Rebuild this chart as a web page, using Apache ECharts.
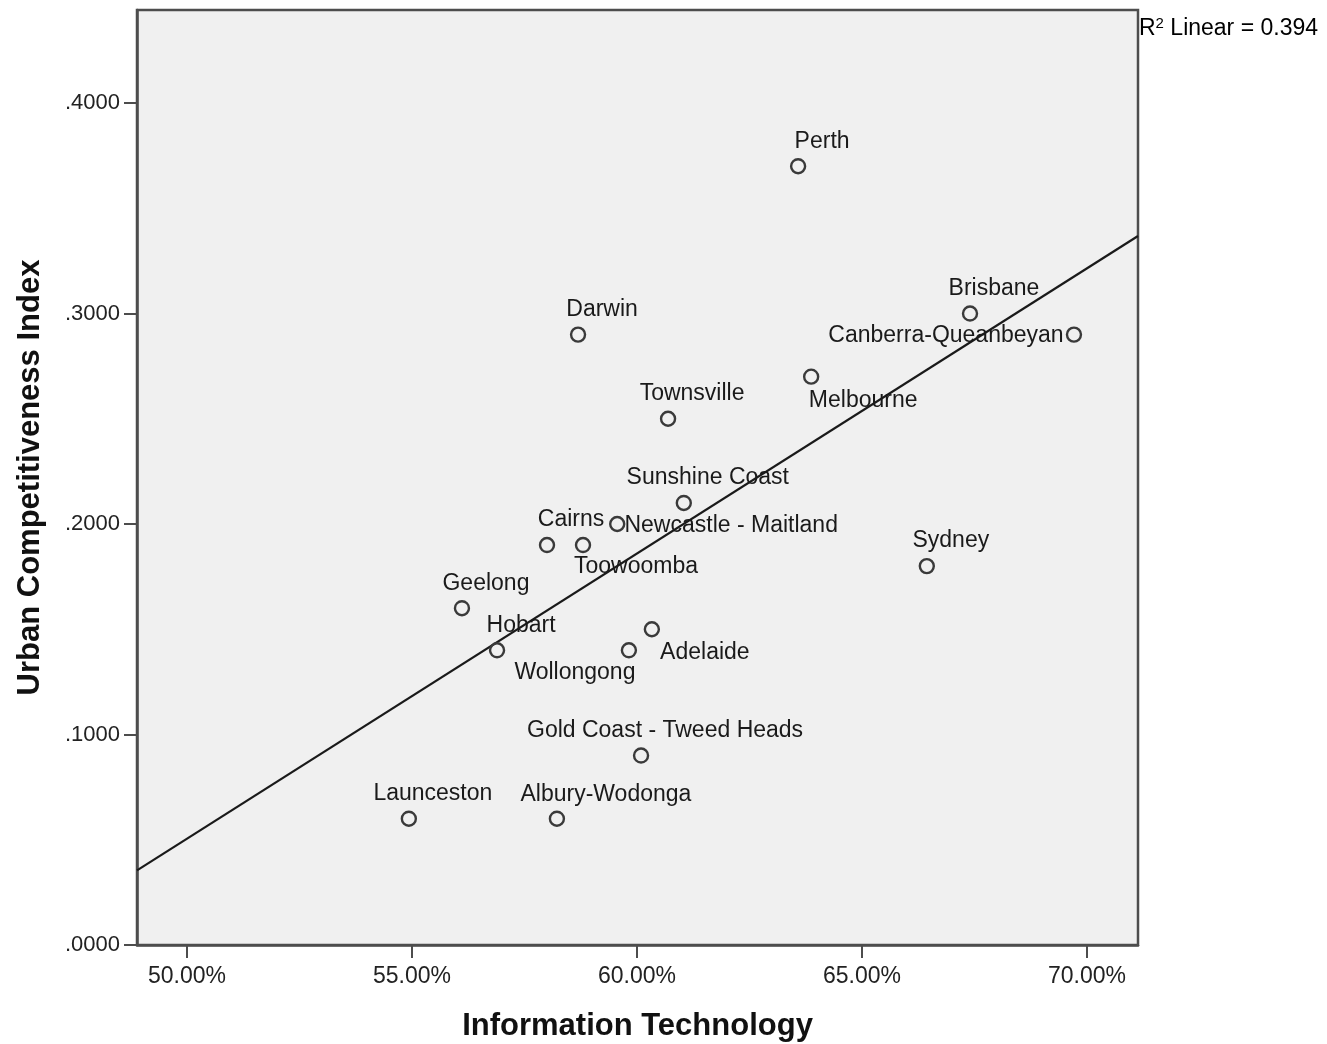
<!DOCTYPE html>
<html>
<head>
<meta charset="utf-8">
<title>Urban Competitiveness vs Information Technology</title>
<script src="https://cdn.jsdelivr.net/npm/echarts@6/dist/echarts.min.js"></script>
<style>
  html, body { margin: 0; padding: 0; background: #fff; }
  #chart { width: 1327px; height: 1044px; }
</style>
</head>
<body>
<div id="chart"></div>
<script>
// City names and their values
const cities = [
  'Perth', 'Darwin', 'Brisbane', 'Canberra-Queanbeyan', 'Melbourne',
  'Townsville', 'Sunshine Coast', 'Newcastle - Maitland', 'Cairns', 'Toowoomba',
  'Sydney', 'Geelong', 'Adelaide', 'Hobart', 'Wollongong',
  'Gold Coast - Tweed Heads', 'Launceston', 'Albury-Wodonga'
];
// Share of Information Technology (%)
const itShare = [
  63.58, 58.69, 67.40, 69.71, 63.87,
  60.69, 61.04, 59.56, 58.00, 58.80,
  66.44, 56.11, 60.33, 56.89, 59.82,
  60.09, 54.93, 58.22
];
// Urban Competitiveness Index
const uci = [
  0.37, 0.29, 0.30, 0.29, 0.27,
  0.25, 0.21, 0.20, 0.19, 0.19,
  0.18, 0.16, 0.15, 0.14, 0.14,
  0.09, 0.06, 0.06
];
// Tick values shown on each axis
const xTicks = [50, 55, 60, 65, 70];
const yTicks = [0, 0.1, 0.2, 0.3, 0.4];

// Axis ranges
const X_MIN = 48.889, X_MAX = 71.133;
const Y_MIN = 0, Y_MAX = 0.4442;

// Label placement around each marker (offset of label centre from point)
const defaultOffset = [24, -25];
const labelOffsets = {
  'Canberra-Queanbeyan': [-128, 1],
  'Melbourne': [52, 24],
  'Newcastle - Maitland': [114, 2],
  'Toowoomba': [53, 22],
  'Adelaide': [53, 23],
  'Wollongong': [-54, 22],
  'Albury-Wodonga': [49, -24]
};

// Least-squares fit of UCI on IT share
const n = itShare.length;
const mx = itShare.reduce((a, b) => a + b, 0) / n;
const my = uci.reduce((a, b) => a + b, 0) / n;
let sxy = 0, sxx = 0, syy = 0;
for (let i = 0; i < n; i++) {
  sxy += (itShare[i] - mx) * (uci[i] - my);
  sxx += (itShare[i] - mx) ** 2;
  syy += (uci[i] - my) ** 2;
}
const slope = sxy / sxx;
const intercept = my - slope * mx;
const r2 = (sxy * sxy) / (sxx * syy);

const points = cities.map((name, i) => ({
  name: name,
  value: [itShare[i], uci[i]],
  label: { offset: labelOffsets[name] || defaultOffset }
}));

const chart = echarts.init(document.getElementById('chart'), null, { renderer: 'canvas' });
const FONT = 'Liberation Sans, Arial, sans-serif';
const GRID = { left: 137, top: 10, width: 1001, height: 935 };

chart.setOption({
  backgroundColor: '#ffffff',
  animation: false,
  grid: {
    left: GRID.left, top: GRID.top, width: GRID.width, height: GRID.height,
    outerBoundsMode: 'none', containLabel: false,
    show: true, backgroundColor: '#f0f0f0', borderColor: '#4d4d4d', borderWidth: 2.5
  },
  xAxis: {
    type: 'value', min: X_MIN, max: X_MAX,
    name: 'Information Technology', nameLocation: 'middle', nameGap: 66,
    nameTextStyle: { fontFamily: FONT, fontSize: 31, fontWeight: 'bold', color: '#111' },
    axisLine: { show: true, lineStyle: { color: '#4d4d4d', width: 2.5 } },
    axisTick: { show: true, customValues: xTicks, length: 13, lineStyle: { color: '#4d4d4d', width: 2 } },
    axisLabel: {
      customValues: xTicks, margin: 20,
      fontFamily: FONT, fontSize: 23, color: '#222',
      formatter: v => v.toFixed(2) + '%'
    },
    splitLine: { show: false }
  },
  yAxis: {
    type: 'value', min: Y_MIN, max: Y_MAX,
    name: 'Urban Competitiveness Index', nameLocation: 'middle', nameGap: 91, nameRotate: 90,
    nameTextStyle: { fontFamily: FONT, fontSize: 31, fontWeight: 'bold', color: '#111' },
    axisLine: { show: true, lineStyle: { color: '#4d4d4d', width: 2.5 } },
    axisTick: { show: true, customValues: yTicks, length: 13, lineStyle: { color: '#4d4d4d', width: 2 } },
    axisLabel: {
      customValues: yTicks, margin: 17,
      fontFamily: FONT, fontSize: 22, color: '#222',
      formatter: v => v.toFixed(4).replace(/^0/, '')
    },
    splitLine: { show: false }
  },
  series: [
    {
      type: 'line',
      data: [[X_MIN, intercept + slope * X_MIN], [X_MAX, intercept + slope * X_MAX]],
      symbol: 'none',
      lineStyle: { color: '#1a1a1a', width: 2.2 },
      clip: true,
      silent: true,
      z: 2
    },
    {
      type: 'scatter',
      data: points,
      symbol: 'circle',
      symbolSize: 14,
      itemStyle: { color: 'rgba(0,0,0,0)', borderColor: '#3a3a3a', borderWidth: 2.4, opacity: 1 },
      label: {
        show: true, position: 'inside', formatter: '{b}',
        fontFamily: FONT, fontSize: 23, color: '#1a1a1a',
        textBorderWidth: 0, textBorderColor: 'transparent', opacity: 1
      },
      z: 3
    }
  ],
  graphic: [
    {
      type: 'text',
      left: 1139, top: 16,
      style: {
        text: '{b|R}{s|2}{b| Linear = ' + r2.toFixed(3) + '}',
        rich: {
          b: { fontFamily: FONT, fontSize: 23, color: '#1a1a1a' },
          s: { fontFamily: FONT, fontSize: 15, color: '#1a1a1a', padding: [0, 0, 11, 0] }
        }
      }
    }
  ]
});
</script>
</body>
</html>
